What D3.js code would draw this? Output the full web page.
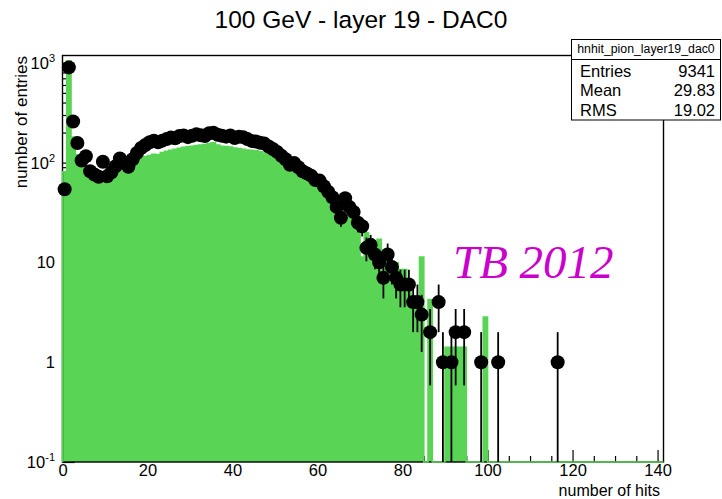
<!DOCTYPE html>
<html><head><meta charset="utf-8">
<script src="https://cdn.jsdelivr.net/npm/d3@7"></script>
<style>
body{margin:0;background:#fff;}
svg{display:block;font-family:"Liberation Sans",Arial,Helvetica,sans-serif;}
</style>
</head><body>
<svg id="c" width="722" height="499"></svg>
<script>
const title = "100 GeV - layer 19 - DAC0";
const xLabel = "number of hits";
const yLabel = "number of entries";
const histName = "hnhit_pion_layer19_dac0";
const statsNames = ["Entries", "Mean", "RMS"];
const statsValues = ["9341", "29.83", "19.02"];
const overlayText = "TB 2012";

const xTicks = [0, 20, 40, 60, 80, 100, 120, 140];
const xMinorTicks = [5,10,15,25,30,35,45,50,55,65,70,75,85,90,95,105,110,115,125,130,135];
const yTicks = [0.1, 1, 10, 100, 1000];
const yTickBase = ["10", "1", "10", "10", "10"];
const yTickExp = ["-1", "", "", "2", "3"];
const yMinorTicks = [0.2,0.3,0.4,0.5,0.6,0.7,0.8,0.9,2,3,4,5,6,7,8,9,20,30,40,50,60,70,80,90,200,300,400,500,600,700,800,900];

// data (black points), bins of width 1 starting at 0
const dataCounts = [54,900,258,157,105,116,82,76,72,102,
  73,80,92,110,100,91,108,125,140,150,
  160,166,160,166,172,178,175,185,187,180,
  186,192,188,185,197,199,190,186,182,187,
  176,182,180,172,165,163,158,155,145,137,
  128,117,108,95,99,90,82,78,74,67,
  66,58,51,45,36,28,44,36,32,25,
  23,14,15,12,10,7,12,9,7,6,
  6,6,4,4,3,0,2,0,4,1,
  0,1,2,0,2,0,0,0,1,0,
  0,0,1,0,0,0,0,0,0,0,
  0,0,0,0,0,0,1];

// simulation (green histogram)
const mcCounts = [81,1050,180,120,95,80,72,68,66,66,
  68,71,75,80,86,92,98,104,110,115,
  118,121,120,126,130,133,136,139,142,144,
  146,148,150,152,155,158,150,146,145,143,
  140,138,136,134,133,131,128,125,122,118,
  116,118,110,105,98,92,80,72,66,60,
  53,50,45,41,37,35,33,28,24,21,
  11.3,19.8,17,14.1,17,12.7,11.3,9.9,9.9,8.5,
  8.5,5.7,4.2,2.83,11.3,0,4.24,0,0,0,
  1.41,1.41,1.41,1.41,1.41,0,0,0,0,2.83];

const green = "#59d454";
const svg = d3.select("#c");
const W = 722, H = 499;
svg.append("rect").attr("width", W).attr("height", H).attr("fill", "#fff");

const xMax = 141.4;
const yMin = 0.1, yMax = 1184;
const x = d3.scaleLinear().domain([0, xMax]).range([62.5, 663.5]);
const y = d3.scaleLog().domain([yMin, yMax]).range([462, 55.5]);

// ticks (drawn first, inside the frame)
function axisG(ax, tf) {
  const g = svg.append("g").attr("transform", tf).call(ax);
  g.select(".domain").remove();
  g.selectAll(".tick line").attr("stroke", "#000").attr("stroke-width", 1.2);
  return g;
}
axisG(d3.axisBottom(x).tickValues(xMinorTicks).tickSize(-6).tickSizeOuter(0).tickFormat(""), `translate(0,${y(yMin)})`);
const gx = axisG(d3.axisBottom(x).tickValues(xTicks).tickSize(-12).tickSizeOuter(0).tickPadding(2.5).tickFormat(d3.format("d")), `translate(0,${y(yMin)})`);
gx.selectAll("text").attr("font-size", 16.5).attr("fill", "#000").attr("font-family", "Liberation Sans, Arial, sans-serif");
axisG(d3.axisLeft(y).tickValues(yMinorTicks).tickSize(-6).tickSizeOuter(0).tickFormat(""), `translate(${x(0)},0)`);
axisG(d3.axisLeft(y).tickValues(yTicks).tickSize(-12).tickSizeOuter(0).tickFormat(""), `translate(${x(0)},0)`);

// green histogram fill
const mcPts = mcCounts.map((v, i) => ({b: i, v: v}));
const mcEnd = {b: mcCounts.length, v: 0};
const fy = v => y(Math.max(v, yMin));
const area = d3.area().curve(d3.curveStepAfter)
  .x(d => x(d.b)).y0(y(yMin)).y1(d => fy(d.v));
svg.append("path").datum(mcPts.concat([mcEnd])).attr("d", area).attr("fill", green);

// frame
svg.append("rect").attr("x", x(0)).attr("y", y(yMax)).attr("width", x(xMax) - x(0)).attr("height", y(yMin) - y(yMax))
  .attr("fill", "none").attr("stroke", "#000").attr("stroke-width", 1.4);

// green outline (top contour, empty bins along the floor)
const line = d3.line().curve(d3.curveStepAfter).x(d => x(d.b)).y(d => fy(d.v));
svg.append("path").datum([{b: 0, v: 0}].concat(mcPts, [mcEnd, {b: xMax, v: 0}]))
  .attr("d", line).attr("fill", "none").attr("stroke", green).attr("stroke-width", 1.6);

// data points with sqrt(N) errors
const dpts = dataCounts.map((n, i) => ({c: i + 0.5, n: n})).filter(d => d.n > 0);
svg.append("g").selectAll("line").data(dpts).join("line")
  .attr("x1", d => x(d.c)).attr("x2", d => x(d.c))
  .attr("y1", d => fy(d.n - Math.sqrt(d.n)))
  .attr("y2", d => Math.max(y(yMax), fy(d.n + Math.sqrt(d.n))))
  .attr("stroke", "#000").attr("stroke-width", 1.8);
svg.append("g").selectAll("circle").data(dpts).join("circle")
  .attr("cx", d => x(d.c)).attr("cy", d => y(d.n)).attr("r", 7).attr("fill", "#000");

// y tick labels with exponents
const yl = svg.append("g");
yTicks.forEach((t, i) => {
  const tx = yl.append("text").attr("x", 55).attr("y", y(t) + 6).attr("text-anchor", "end")
    .attr("font-size", 16.5).attr("fill", "#000");
  tx.append("tspan").text(yTickBase[i]);
  if (yTickExp[i]) tx.append("tspan").attr("font-size", 11).attr("dy", -7).text(yTickExp[i]);
});

// axis titles
svg.append("text").attr("x", 660).attr("y", 496).attr("text-anchor", "end").attr("font-size", 16)
  .attr("fill", "#000").text(xLabel);
svg.append("text").attr("transform", "translate(27,56) rotate(-90)").attr("text-anchor", "end")
  .attr("font-size", 17).attr("fill", "#000").text(yLabel);

// title
svg.append("text").attr("x", 361).attr("y", 28).attr("text-anchor", "middle").attr("font-size", 24.5)
  .attr("fill", "#000").text(title);

// stats box
const bx0 = 571.5, bx1 = 720.5;
svg.append("rect").attr("x", bx0).attr("y", 39.5).attr("width", bx1 - bx0).attr("height", 20)
  .attr("fill", "#fff").attr("stroke", "#000").attr("stroke-width", 1);
svg.append("rect").attr("x", bx0).attr("y", 59.5).attr("width", bx1 - bx0).attr("height", 60.5)
  .attr("fill", "#fff").attr("stroke", "#000").attr("stroke-width", 1);
svg.append("text").attr("x", (bx0 + bx1) / 2).attr("y", 52.5).attr("text-anchor", "middle")
  .attr("font-size", 12.3).attr("fill", "#000").text(histName);
statsNames.forEach((s, i) => {
  svg.append("text").attr("x", 580).attr("y", 77 + i * 19.3).attr("font-size", 16.5).attr("fill", "#000").text(s);
  svg.append("text").attr("x", 715).attr("y", 77 + i * 19.3).attr("text-anchor", "end").attr("font-size", 16.5)
    .attr("fill", "#000").text(statsValues[i]);
});

// overlay label
svg.append("text").attr("x", 453).attr("y", 278).attr("font-family", "Liberation Serif, Times New Roman, serif")
  .attr("font-style", "italic").attr("font-size", 47).attr("fill", "#cc00cc").text(overlayText);
</script>
</body></html>
